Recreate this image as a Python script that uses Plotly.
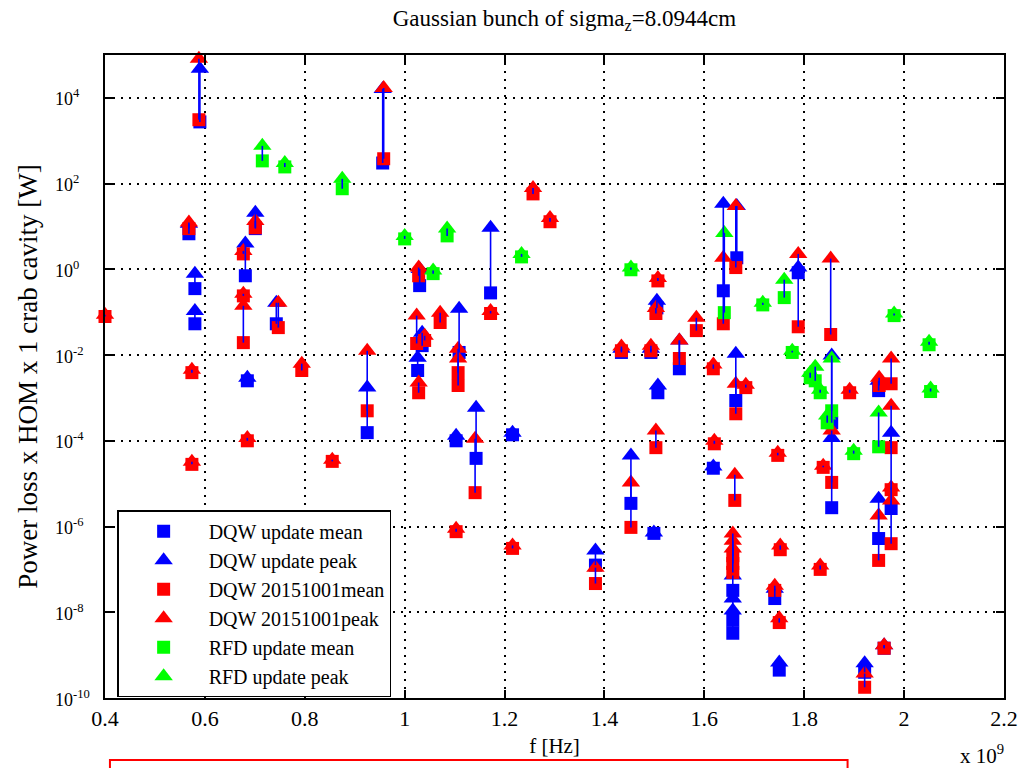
import plotly.graph_objects as go

# ---------------- data (f in units of 1e9 Hz, power in W) ----------------
dqw_upd_f = [0.590, 0.956, 0.568, 0.701, 0.580, 0.580, 0.681, 0.743, 0.685, 0.925,
             1.103, 1.143, 1.216, 1.172, 1.030, 1.035, 1.026, 1.109, 1.382, 1.453,
             1.499, 1.505, 1.507, 1.434, 1.493, 1.550, 1.618, 1.638, 1.663, 1.665,
             1.657, 1.657, 1.657, 1.741, 1.750, 1.788, 1.855, 1.855, 1.949, 1.974,
             1.949, 1.921, 1.960]
dqw_upd_peak = [4.79e4, 1.62e4, 1.15e1, 2.09e1, 7.94e-1, 1.07e-1, 3.98, 1.66e-1, 2.95e-3, 1.74e-3,
                1.32e-4, 5.89e-4, 1.55e-4, 9.33, 1.02, 3.31e-2, 8.71e-3, 1.20e-1, 2.75e-7, 4.57e-5,
                7.24e-7, 1.86e-1, 1.95e-3, 1.41e-2, 1.41e-2, 2.19e-2, 2.51e-5, 3.39e1, 1.07e-2, 3.02e1,
                7.24e-8, 2.09e-8, 1.10e-8, 3.55e-8, 6.76e-10, 1.10, 9.77e-3, 1.17e-4, 2.51e-3, 1.55e-4,
                4.47e-6, 6.46e-10, 1.70e-9]
dqw_upd_mean = [2.75e3, 3.02e2, 6.76, 8.91, 3.55e-1, 5.37e-2, 7.08e-1, 5.37e-2, 2.51e-3, 1.55e-4,
                1.00e-4, 3.89e-5, 1.38e-4, 2.82e-1, 4.17e-1, 1.66e-2, 4.37e-3, 1.15e-2, 1.26e-7, 3.47e-6,
                6.92e-7, 1.26e-1, 1.32e-3, 1.15e-2, 1.15e-2, 4.79e-3, 2.29e-5, 3.16e-1, 8.71e-4, 1.86,
                3.24e-8, 6.46e-9, 3.24e-9, 2.09e-8, 4.47e-10, 8.32e-1, 2.63e-4, 2.75e-6, 1.48e-3, 2.63e-6,
                5.25e-7, 3.98e-10, 1.45e-9]

dqw_old_f = [0.588, 0.958, 0.568, 0.701, 0.677, 0.677, 0.677, 0.747, 0.400, 0.574,
             0.794, 0.685, 0.574, 0.855, 0.925, 1.257, 1.291, 1.172, 1.028, 1.024,
             1.040, 1.071, 1.107, 1.107, 1.028, 1.141, 1.103, 1.216, 1.382, 1.453,
             1.503, 1.503, 1.507, 1.434, 1.493, 1.550, 1.584, 1.618, 1.620, 1.663,
             1.683, 1.661, 1.638, 1.663, 1.657, 1.657, 1.657, 1.752, 1.741, 1.750,
             1.832, 1.921, 1.960, 1.949, 1.974, 1.747, 1.788, 1.853, 1.891, 1.950,
             1.974, 1.974, 1.855, 1.838, 1.974]
dqw_old_peak = [8.13e4, 1.70e4, 1.23e1, 1.35e1, 2.69, 2.69e-1, 1.41e-1, 1.66e-1, 8.71e-2, 4.57e-3,
                6.31e-3, 1.17e-4, 3.24e-5, 3.63e-5, 1.26e-2, 7.94e1, 1.58e1, 1.07e-1, 1.10, 8.32e-2,
                2.82e-2, 9.77e-2, 1.41e-2, 8.32e-3, 2.29e-3, 1.12e-4, 8.91e-7, 3.63e-7, 1.10e-7, 1.07e-5,
                1.74e-4, 1.26e-1, 6.31e-1, 1.58e-2, 1.66e-2, 2.19e-2, 7.41e-2, 6.03e-3, 1.00e-4, 2.14e-3,
                2.04e-3, 1.62e-5, 1.86, 3.02e1, 6.92e-7, 4.68e-7, 3.09e-7, 3.63e-7, 4.17e-8, 7.24e-9,
                1.23e-7, 3.72e-10, 1.70e-9, 1.82e-6, 4.07e-6, 5.25e-5, 2.29, 1.78, 1.55e-3, 2.95e-3,
                8.32e-3, 6.61e-4, 1.74e-4, 2.63e-5, 8.13e-6]
dqw_old_mean = [3.09e3, 3.80e2, 8.91, 9.33, 2.29, 2.40e-1, 1.95e-2, 4.37e-2, 7.94e-2, 3.89e-3,
                4.37e-3, 1.00e-4, 2.82e-5, 3.31e-5, 5.01e-4, 5.75e1, 1.29e1, 9.33e-2, 7.08e-1, 1.86e-2,
                2.19e-2, 5.75e-2, 1.95e-3, 3.89e-3, 1.32e-3, 6.17e-6, 7.59e-7, 3.09e-7, 4.68e-8, 9.55e-7,
                6.92e-5, 9.33e-2, 5.37e-1, 1.26e-2, 1.26e-2, 8.32e-3, 3.72e-2, 4.79e-3, 8.51e-5, 4.27e-4,
                1.74e-3, 4.07e-6, 5.37e-2, 1.10, 8.51e-8, 1.38e-7, 2.09e-7, 2.88e-7, 3.24e-8, 5.75e-9,
                1.00e-7, 1.78e-10, 1.45e-9, 1.62e-7, 3.98e-7, 4.57e-5, 4.57e-2, 3.02e-2, 1.32e-3, 1.95e-3,
                2.14e-3, 6.92e-5, 1.07e-5, 2.40e-5, 7.24e-6]

rfd_f = [0.715, 0.760, 0.875, 1.000, 1.085, 1.057, 1.234, 1.453, 1.640, 1.717,
         1.760, 1.980, 2.050, 1.776, 1.855, 1.812, 1.822, 1.832, 1.846, 1.949,
         1.899, 2.053]
rfd_peak = [7.59e2, 3.02e2, 1.29e2, 6.03, 8.91, 9.33e-1, 2.29, 1.10, 7.08, 1.66e-1,
            5.75e-1, 9.33e-2, 2.04e-2, 1.26e-2, 8.32e-3, 3.89e-3, 5.37e-3, 1.55e-3, 3.89e-4, 4.57e-4,
            5.89e-5, 1.66e-3]
rfd_mean = [3.39e2, 2.45e2, 7.59e1, 5.13, 6.03, 7.94e-1, 1.95, 9.77e-1, 9.77e-2, 1.48e-1,
            2.19e-1, 8.32e-2, 1.74e-2, 1.15e-2, 5.01e-4, 2.95e-3, 2.51e-3, 1.32e-3, 2.63e-4, 7.24e-5,
            5.01e-5, 1.41e-3]

x_ticks = [0.4, 0.6, 0.8, 1.0, 1.2, 1.4, 1.6, 1.8, 2.0, 2.2]
x_ticktext = ["0.4", "0.6", "0.8", "1", "1.2", "1.4", "1.6", "1.8", "2", "2.2"]
y_tick_exp = [-10, -8, -6, -4, -2, 0, 2, 4]
y_ticks = [10.0 ** e for e in y_tick_exp]

BLUE = "#0000ff"
RED = "#ff0000"
GREEN = "#00ff00"
FONT = "Liberation Serif, Times New Roman, serif"
SQ = 13
TRI = 16

fig = go.Figure()

series = [
    ("DQW update mean", "DQW update peak", dqw_upd_f, dqw_upd_mean, dqw_upd_peak, BLUE),
    ("DQW 20151001mean", "DQW 20151001peak", dqw_old_f, dqw_old_mean, dqw_old_peak, RED),
    ("RFD update mean", "RFD update peak", rfd_f, rfd_mean, rfd_peak, GREEN),
]
for nm, npk, fx, mean, peak, col in series:
    fig.add_trace(go.Scatter(x=fx, y=mean, mode="markers", name=nm, cliponaxis=False,
                             marker=dict(symbol="square", size=SQ, color=col, line=dict(width=0))))
    fig.add_trace(go.Scatter(x=fx, y=peak, mode="markers", name=npk, cliponaxis=False,
                             marker=dict(symbol="triangle-up", size=TRI, color=col, line=dict(width=0))))

# vertical connectors mean -> peak (blue)
lx, ly = [], []
for nm, npk, fx, mean, peak, col in series:
    for a, m, p in zip(fx, mean, peak):
        lx += [a, a, None]
        ly += [m, p, None]
fig.add_trace(go.Scatter(x=lx, y=ly, mode="lines", line=dict(color=BLUE, width=1.6),
                         showlegend=False, hoverinfo="skip", cliponaxis=False))

axis_common = dict(showline=True, linecolor="black", linewidth=1.5, mirror="ticks",
                   ticks="inside", ticklen=8, tickwidth=1.5, tickcolor="black",
                   showgrid=True, gridcolor="black", gridwidth=1.5, griddash="2px,6px",
                   zeroline=False)

fig.update_layout(
    width=1030, height=768,
    margin=dict(l=105, r=17, t=55, b=70),
    paper_bgcolor="white", plot_bgcolor="white",
    font=dict(family=FONT, color="black"),
    title=dict(text="Gaussian bunch of sigma<sub>z</sub>=8.0944cm",
               x=0.511, xanchor="center", xref="paper", y=0.977, yanchor="middle",
               font=dict(family=FONT, size=23, color="black")),
    xaxis=dict(range=[0.4, 2.2], tickvals=x_ticks, ticktext=x_ticktext,
               tickfont=dict(family=FONT, size=22, color="black"),
               title=dict(text="f [Hz]", font=dict(family=FONT, size=21), standoff=8),
               **axis_common),
    yaxis=dict(type="log", range=[-10, 5], tickvals=y_ticks, showticklabels=False,
               title=dict(text="Power loss x HOM x 1 crab cavity [W]", font=dict(family=FONT, size=27),
                          standoff=58),
               **axis_common),
    legend=dict(x=0.0135, y=0.292, xanchor="left", yanchor="top",
                bgcolor="white", bordercolor="black", borderwidth=1.5,
                font=dict(family=FONT, size=20, color="black"),
                itemwidth=80, tracegroupgap=0),
    showlegend=True,
)

# y tick labels (left aligned, as in the reference)
for e in y_tick_exp:
    fig.add_annotation(text="10<sup>%d</sup>" % e, xref="paper", yref="y",
                       x=-0.058, y=e, xanchor="left", yanchor="middle", showarrow=False,
                       font=dict(family=FONT, size=18, color="black"))

fig.add_annotation(text="x 10<sup>9</sup>", xref="paper", yref="paper",
                   x=0.976, y=-0.088, xanchor="center", yanchor="middle", showarrow=False,
                   font=dict(family=FONT, size=21, color="black"))

fig.add_shape(type="rect", xref="paper", yref="paper",
              x0=0.0055, x1=0.826, y0=-0.16, y1=-0.0964,
              line=dict(color=RED, width=2), fillcolor="rgba(0,0,0,0)")

fig.write_html("out.html", config={"displayModeBar": False},
               post_script="document.body.style.margin='0';")
